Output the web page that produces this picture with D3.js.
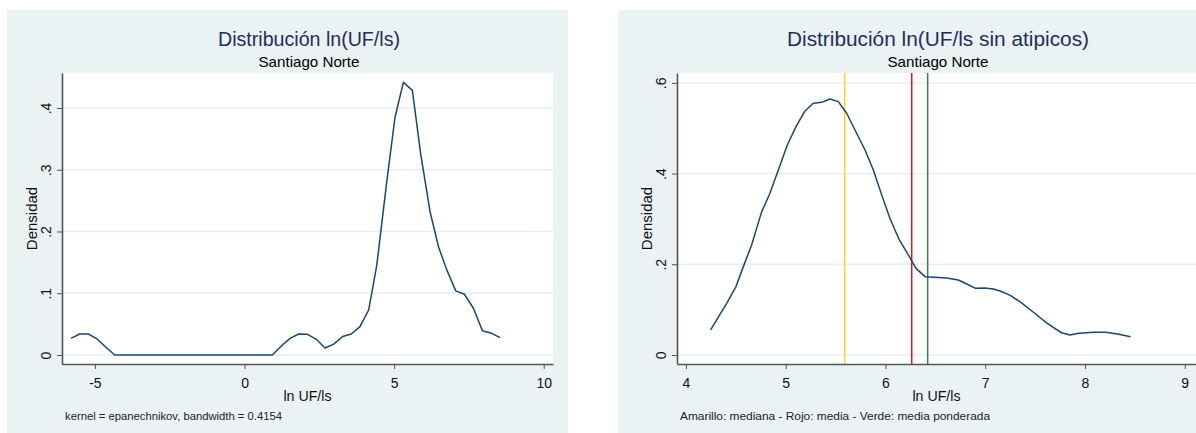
<!DOCTYPE html>
<html>
<head>
<meta charset="utf-8">
<script src="https://cdn.jsdelivr.net/npm/d3@7"></script>
<style>
  html, body { margin: 0; padding: 0; background: #ffffff; }
  svg { display: block; }
  text { font-family: "Liberation Sans", Arial, sans-serif; }
</style>
</head>
<body>
<svg id="chart" width="1196" height="433"></svg>
<script>
// ---------- Data ----------
// Left panel: kernel density of ln(UF/ls)
const leftX = [-5.80, -5.51, -5.22, -4.93, -4.63, -4.34, 0.93, 1.23, 1.52, 1.81, 2.11, 2.40, 2.69, 2.98,
               3.28, 3.57, 3.86, 4.15, 4.42, 4.74, 5.03, 5.31, 5.61, 5.89, 6.20, 6.48, 6.76, 7.06,
               7.35, 7.65, 7.95, 8.26, 8.54];
const leftY = [0.027, 0.034, 0.034, 0.026, 0.0125, 0.0, 0.0, 0.0146, 0.027, 0.034, 0.0335, 0.0254, 0.0114, 0.0175,
               0.030, 0.034, 0.046, 0.073, 0.145, 0.275, 0.385, 0.4416, 0.4286, 0.325, 0.2324, 0.1757, 0.1378, 0.1038,
               0.0984, 0.0757, 0.0394, 0.0351, 0.0281];

// Right panel: kernel density of ln(UF/ls) without outliers
const rightX = [4.247, 4.408, 4.501, 4.575, 4.658, 4.759, 4.842, 4.926, 5.016, 5.103, 5.193, 5.276, 5.360,
                5.444, 5.527, 5.611, 5.694, 5.795, 5.878, 5.962, 6.045, 6.139, 6.229, 6.306, 6.396, 6.613,
                6.730, 6.820, 6.904, 6.997, 7.081, 7.148, 7.246, 7.361, 7.496, 7.611, 7.764, 7.850, 7.938,
                8.090, 8.206, 8.341, 8.456];
const rightY = [0.0551, 0.114, 0.1507, 0.1948, 0.2426, 0.316, 0.3565, 0.408, 0.463, 0.5035, 0.538, 0.555, 0.557,
                0.5645, 0.5586, 0.533, 0.496, 0.452, 0.408, 0.353, 0.301, 0.2536, 0.2205, 0.191, 0.1727, 0.1698,
                0.1654, 0.156, 0.147, 0.1475, 0.1455, 0.141, 0.132, 0.1154, 0.092, 0.0713, 0.049, 0.044, 0.0478,
                0.050, 0.050, 0.0456, 0.0404];

// Reference lines (right panel)
const refNames = ["mediana", "media", "media ponderada"];
const refValues = [5.591, 6.263, 6.423];

// Ticks
const leftXTicks = [-5, 0, 5, 10];
const leftYTicks = [0, 0.1, 0.2, 0.3, 0.4];
const rightXTicks = [4, 5, 6, 7, 8, 9];
const rightYTicks = [0, 0.2, 0.4, 0.6];

// Texts
const leftTitle = "Distribución ln(UF/ls)";
const rightTitle = "Distribución ln(UF/ls sin atipicos)";
const subtitle = "Santiago Norte";
const xTitle = "ln UF/ls";
const yTitle = "Densidad";
const leftNote = "kernel = epanechnikov, bandwidth = 0.4154";
const rightNote = "Amarillo: mediana - Rojo: media - Verde: media ponderada";

// ---------- Drawing ----------
const svg = d3.select("#chart");
const PANEL_BG = "#eaf2f3";
const GRID = "#e6eef1";
const AXIS = "#555555";
const LINE = "#1a476f";
const refColors = ["#f9d52b", "#e3151b", "#2e8a2a"];

function fmtY(d) { return d === 0 ? "0" : d3.format(".1f")(d).replace(/^0/, ""); }
function fmtX(d) { return String(d); }

function panel(cfg) {
  const g = svg.append("g");
  // panel background
  g.append("rect").attr("x", cfg.px).attr("y", 10).attr("width", cfg.pw).attr("height", 423)
    .attr("fill", PANEL_BG);
  // plot region
  g.append("rect").attr("x", cfg.left).attr("y", cfg.top)
    .attr("width", cfg.right - cfg.left).attr("height", cfg.bottom - cfg.top).attr("fill", "#ffffff");

  const x = d3.scaleLinear().domain(cfg.xDomain).range([cfg.left, cfg.right]);
  const y = d3.scaleLinear().domain(cfg.yDomain).range([cfg.bottom, cfg.top]);

  // gridlines
  g.append("g").selectAll("line").data(cfg.yTicks).join("line")
    .attr("x1", cfg.left).attr("x2", cfg.right)
    .attr("y1", d => y(d)).attr("y2", d => y(d))
    .attr("stroke", GRID).attr("stroke-width", 1.3);

  // reference lines
  if (cfg.refs) {
    g.append("g").selectAll("line").data(cfg.refs).join("line")
      .attr("x1", d => x(d)).attr("x2", d => x(d))
      .attr("y1", cfg.top).attr("y2", cfg.bottom)
      .attr("stroke", (d, i) => refColors[i]).attr("stroke-width", 1.5);
  }

  // density line
  const pts = cfg.xs.map((v, i) => [v, cfg.ys[i]]);
  g.append("path").datum(pts)
    .attr("d", d3.line().x(d => x(d[0])).y(d => y(d[1])))
    .attr("fill", "none").attr("stroke", LINE).attr("stroke-width", 1.5)
    .attr("stroke-linejoin", "round");

  // x axis
  const xa = g.append("g").attr("transform", `translate(0,${cfg.bottom})`)
    .call(d3.axisBottom(x).tickValues(cfg.xTicks).tickSizeInner(5).tickSizeOuter(0).tickPadding(3)
      .tickFormat(fmtX));
  xa.select(".domain").attr("stroke", AXIS).attr("stroke-width", 1.6);
  xa.selectAll(".tick line").attr("stroke", AXIS).attr("stroke-width", 1);
  xa.selectAll(".tick text").attr("font-size", 14).attr("fill", "#111").attr("y", 24).attr("dy", 0);

  // y axis
  const ya = g.append("g").attr("transform", `translate(${cfg.left},0)`)
    .call(d3.axisLeft(y).tickValues(cfg.yTicks).tickSizeInner(5).tickSizeOuter(0).tickFormat(fmtY));
  ya.select(".domain").attr("stroke", AXIS).attr("stroke-width", 1.6);
  ya.selectAll(".tick line").attr("stroke", AXIS).attr("stroke-width", 1);
  ya.selectAll(".tick text").attr("font-size", 14).attr("fill", "#111")
    .attr("transform", "rotate(-90)").attr("x", 0).attr("y", -11).attr("dy", 0)
    .attr("text-anchor", "middle");

  // titles
  const cx = (cfg.left + cfg.right) / 2;
  g.append("text").attr("x", cfg.titleX).attr("y", 45.5).attr("text-anchor", "middle")
    .attr("font-size", 20.5).attr("fill", "#1e2f5e")
    .attr("textLength", cfg.titleW).attr("lengthAdjust", "spacingAndGlyphs")
    .text(cfg.title);
  g.append("text").attr("x", cfg.titleX).attr("y", 66.5).attr("text-anchor", "middle")
    .attr("font-size", 15).attr("fill", "#000")
    .attr("textLength", 101).attr("lengthAdjust", "spacingAndGlyphs")
    .text(subtitle);
  // axis titles
  g.append("text").attr("x", cx).attr("y", 401).attr("text-anchor", "middle")
    .attr("font-size", 14.2).attr("fill", "#111").text(xTitle);
  g.append("text").attr("transform", `translate(${cfg.left - 25.5},${(cfg.top + cfg.bottom) / 2}) rotate(-90)`)
    .attr("text-anchor", "middle").attr("font-size", 15).attr("fill", "#111").text(yTitle);
  // note
  g.append("text").attr("x", cfg.left + 3).attr("y", 419.5)
    .attr("font-size", 11).attr("fill", "#222")
    .attr("textLength", cfg.noteW).attr("lengthAdjust", "spacingAndGlyphs")
    .text(cfg.note);
}

panel({
  px: 7, pw: 561, left: 62, right: 553, top: 73, bottom: 364,
  xDomain: [-6.10, 10.31], yDomain: [-0.0146, 0.4567],
  xTicks: leftXTicks, yTicks: leftYTicks, xs: leftX, ys: leftY,
  title: leftTitle, titleX: 309, titleW: 182, note: leftNote, noteW: 217
});

panel({
  px: 618, pw: 578, left: 677, right: 1196, top: 73, bottom: 364,
  xDomain: [3.91, 9.113], yDomain: [-0.0199, 0.6217],
  xTicks: rightXTicks, yTicks: rightYTicks, xs: rightX, ys: rightY,
  refs: refValues,
  title: rightTitle, titleX: 938, titleW: 302, note: rightNote, noteW: 310
});
</script>
</body>
</html>
